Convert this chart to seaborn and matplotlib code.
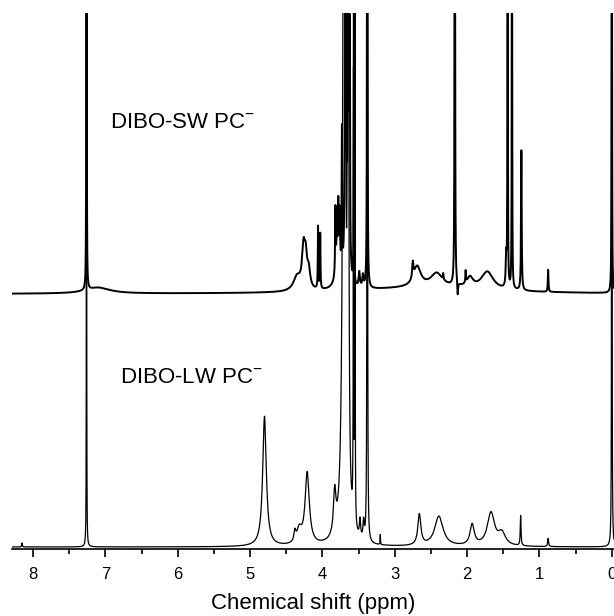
import numpy as np
import pandas as pd
import matplotlib.pyplot as plt
import seaborn as sns

# DIBO-LW PC- (espectro inferior)
lw_pos = [8.15, 7.26, 4.80, 4.38, 4.32, 4.21, 3.83, 3.70, 3.645, 3.57, 3.55,
          3.48, 3.43, 3.38, 3.20, 2.66, 2.39, 1.93, 1.67, 1.52, 1.26, 0.88, 0.00]
lw_alto = [4, 3000, 130, 10, 14, 72, 42, 1000, 2000, 600, 600,
           18, 18, 3000, 10, 31, 30, 21, 33, 12, 30, 8, 3000]
lw_ancho = [0.01, 0.002, 0.06, 0.03, 0.08, 0.07, 0.04, 0.035, 0.01, 0.006, 0.005,
            0.02, 0.02, 0.004, 0.006, 0.05, 0.14, 0.07, 0.12, 0.12, 0.012, 0.015, 0.003]

# DIBO-SW PC- (espectro superior)
sw_pos = [7.26, 7.10, 4.35, 4.26, 4.23, 4.19, 4.06, 4.03, 3.82, 3.80, 3.78, 3.76, 3.78,
          3.73, 3.68, 3.64, 3.62, 3.565, 3.49, 3.44, 3.38, 2.75, 2.69, 2.42, 2.33,
          2.17, 2.13, 2.02, 1.96, 1.72, 1.46, 1.44, 1.38, 1.25, 0.88, 0.00, 2.60]
sw_alto = [2000, 6, 14, 40, 25, 18, 62, 55, 65, 50, 55, 50, 28,
           140, 1500, 3000, 200, 215, 15, 12, 2000, 16, 20, 14, 6,
           2000, -14, 12, 10, 18, 30, 1000, 1000, 140, 22, 2000, 6]
sw_ancho = [0.003, 0.4, 0.12, 0.05, 0.04, 0.05, 0.008, 0.008, 0.01, 0.01, 0.01, 0.01, 0.08,
            0.008, 0.008, 0.006, 0.006, 0.006, 0.02, 0.02, 0.004, 0.02, 0.12, 0.2, 0.01,
            0.004, 0.012, 0.01, 0.1, 0.2, 0.015, 0.004, 0.004, 0.01, 0.01, 0.003, 2.2]
sw_desplazamiento = 253

etiquetas = ['DIBO-SW PC$^{-}$', 'DIBO-LW PC$^{-}$']

############ Construccion del espectro ############
ppm = np.arange(-0.05, 8.35, 0.0003)


def espectro(pos, alto, ancho):
    y = np.zeros_like(ppm)
    for c, h, w in zip(pos, alto, ancho):
        y += h / (1 + ((ppm - c) / (w / 2)) ** 2)
    return y


df = pd.DataFrame({'ppm': ppm,
                   'lw': espectro(lw_pos, lw_alto, lw_ancho),
                   'sw': espectro(sw_pos, sw_alto, sw_ancho) + sw_desplazamiento})

############ Se realizan las graficas ############
sns.set_style('ticks')
plt.rcParams['font.family'] = ['Liberation Sans', 'DejaVu Sans']
plt.rcParams['mathtext.fontset'] = 'custom'
plt.rcParams['mathtext.rm'] = 'Liberation Sans'
plt.rcParams['text.color'] = 'black'
plt.rcParams['axes.labelcolor'] = 'black'
plt.rcParams['xtick.color'] = 'black'
plt.rcParams['axes.edgecolor'] = 'black'

fig = plt.figure(figsize=(6.14, 6.16), dpi=100)
ax = fig.add_axes([12 / 614, 67 / 616, 602 / 614, 536 / 616])
sns.lineplot(data=df, x='ppm', y='sw', color='black', linewidth=1.4,
             estimator=None, sort=False, ax=ax)
sns.lineplot(data=df, x='ppm', y='lw', color='black', linewidth=0.9,
             estimator=None, sort=False, ax=ax)

ax.set_xlim(8.29, -0.03)
ax.set_ylim(-2, 534)
sns.despine(ax=ax, left=True)
ax.set_yticks([])
ax.set_ylabel('')
ax.set_xticks(range(0, 9))
ax.set_xticks(np.arange(0.5, 8.5, 1.0), minor=True)
ax.tick_params(axis='x', which='major', length=6, width=1.2, labelsize=12, pad=7)
ax.tick_params(axis='x', which='minor', length=3.5, width=1.2)
ax.spines['bottom'].set_linewidth(1.2)
ax.set_xlabel('Chemical shift (ppm)', fontsize=16, labelpad=8)

ax.text(6.93, 419, etiquetas[0], fontsize=16, ha='left', va='baseline')
ax.text(6.80, 164, etiquetas[1], fontsize=16, ha='left', va='baseline')

plt.savefig('out.png', dpi=100)
